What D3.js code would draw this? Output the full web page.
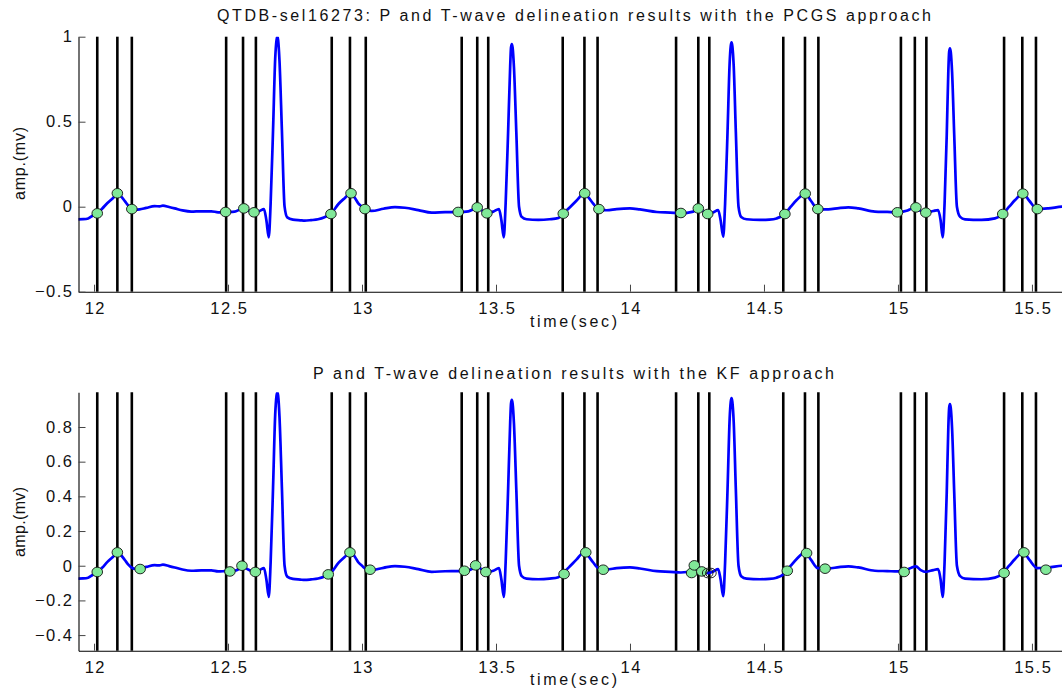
<!DOCTYPE html>
<html><head><meta charset="utf-8">
<script src="https://cdn.jsdelivr.net/npm/d3@7"></script>
<style>
body{margin:0;background:#fff;}
text{font-family:"Liberation Sans",Arial,Helvetica,sans-serif;fill:#111;}
</style>
</head><body>
<svg id="c" width="1062" height="693"></svg>
<script>
// ---------- DATA ----------
const sigTime = [11.940,11.960,11.978,11.996,12.012,12.030,12.050,12.070,12.088,12.100,12.115,12.128,12.141,12.155,12.170,12.195,12.226,12.245,12.257,12.280,12.301,12.330,12.363,12.400,12.438,12.463,12.491,12.525,12.545,12.558,12.575,12.596,12.618,12.634,12.643,12.652,12.659,12.668,12.676,12.681,12.684,12.687,12.692,12.701,12.711,12.721,12.742,12.770,12.786,12.810,12.836,12.860,12.884,12.912,12.935,12.957,12.972,12.986,13.000,13.012,13.036,13.080,13.123,13.160,13.210,13.260,13.310,13.359,13.397,13.415,13.430,13.450,13.468,13.490,13.511,13.520,13.529,13.536,13.545,13.553,13.556,13.559,13.562,13.567,13.576,13.586,13.596,13.614,13.658,13.700,13.733,13.751,13.776,13.800,13.830,13.845,13.862,13.884,13.913,13.950,14.000,14.037,14.100,14.150,14.190,14.236,14.255,14.272,14.290,14.311,14.329,14.338,14.348,14.355,14.364,14.372,14.376,14.379,14.382,14.387,14.395,14.405,14.415,14.435,14.485,14.520,14.547,14.578,14.600,14.622,14.654,14.675,14.701,14.740,14.780,14.815,14.852,14.914,14.960,14.999,15.032,15.050,15.067,15.085,15.104,15.132,15.150,15.159,15.167,15.174,15.182,15.188,15.191,15.194,15.197,15.202,15.210,15.220,15.232,15.250,15.312,15.362,15.391,15.415,15.437,15.467,15.490,15.520,15.561,15.612,15.645];
const sigAmp = [-0.074,-0.073,-0.069,-0.052,-0.039,-0.012,0.022,0.050,0.079,0.062,0.033,0.006,-0.012,-0.018,-0.016,-0.007,0.003,0.002,0.006,-0.002,-0.010,-0.022,-0.029,-0.027,-0.027,-0.033,-0.031,-0.029,-0.016,-0.010,-0.022,-0.033,-0.025,-0.014,-0.078,-0.180,0.020,0.451,0.870,0.980,1.000,0.980,0.860,0.451,0.000,-0.063,-0.076,-0.080,-0.082,-0.079,-0.074,-0.062,-0.041,0.016,0.050,0.079,0.055,0.020,0.000,-0.016,-0.025,-0.012,-0.002,-0.006,-0.020,-0.035,-0.032,-0.031,-0.027,-0.015,-0.004,-0.025,-0.037,-0.029,-0.014,-0.078,-0.180,0.020,0.430,0.830,0.935,0.957,0.935,0.820,0.430,0.000,-0.060,-0.074,-0.078,-0.074,-0.066,-0.041,-0.003,0.035,0.079,0.055,0.020,-0.016,-0.021,-0.014,-0.010,-0.016,-0.031,-0.035,-0.039,-0.029,-0.010,-0.025,-0.043,-0.033,-0.020,-0.078,-0.176,0.020,0.440,0.850,0.945,0.967,0.945,0.830,0.440,0.000,-0.060,-0.074,-0.078,-0.076,-0.069,-0.043,0.000,0.039,0.077,0.035,-0.014,-0.016,-0.008,-0.004,-0.010,-0.029,-0.031,-0.033,-0.024,-0.012,-0.004,-0.025,-0.035,-0.025,-0.020,-0.078,-0.180,0.020,0.420,0.800,0.910,0.932,0.910,0.790,0.420,0.000,-0.060,-0.074,-0.078,-0.069,-0.043,0.000,0.039,0.077,0.035,-0.014,-0.010,0.000,0.002];

// reference annotation lines (sec)
const refLines = [12.012,12.087,12.141,12.493,12.556,12.604,12.887,12.955,13.014,13.372,13.430,13.471,13.749,13.830,13.879,14.172,14.255,14.296,14.572,14.653,14.703,15.011,15.063,15.106,15.396,15.464,15.515];

// PCGS detections
const pcgsTime = [12.012,12.087,12.141,12.491,12.559,12.597,12.884,12.959,13.011,13.359,13.430,13.466,13.751,13.831,13.884,14.190,14.255,14.290,14.578,14.654,14.701,14.998,15.067,15.104,15.391,15.466,15.520];
const pcgsAmp  = [-0.039,0.079,-0.014,-0.031,-0.010,-0.033,-0.043,0.079,-0.014,-0.031,-0.004,-0.039,-0.041,0.079,-0.014,-0.037,-0.010,-0.043,-0.043,0.077,-0.014,-0.033,-0.004,-0.035,-0.043,0.077,-0.014];

// KF detections
const kfTime = [12.012,12.087,12.172,12.507,12.552,12.602,12.874,12.955,13.030,13.382,13.424,13.462,13.754,13.835,13.900,14.230,14.240,14.268,14.290,14.302,14.587,14.659,14.728,15.023,15.396,15.470,15.552];
const kfAmp  = [-0.036,0.077,-0.019,-0.033,0.000,-0.036,-0.050,0.077,-0.023,-0.029,0.002,-0.036,-0.048,0.077,-0.023,-0.042,0.002,-0.033,-0.042,-0.042,-0.029,0.073,-0.017,-0.036,-0.042,0.077,-0.023];
const kfOpen = [0,0,0,0,0,0,0,0,0,0,0,0,0,0,0,0,0,0,1,1,0,0,0,0,0,0,0];

const xTicks = [12,12.5,13,13.5,14,14.5,15,15.5];
const yTicksTop = [-0.5,0,0.5,1];
const yTicksBot = [-0.4,-0.2,0,0.2,0.4,0.6,0.8];

const titleTop = "QTDB-sel16273: P and T-wave delineation results with the PCGS approach";
const titleBot = "P and T-wave delineation results with the KF approach";
const xLabel = "time(sec)";
const yLabel = "amp.(mv)";

// ---------- DRAW ----------
const svg = d3.select("#c");
const signal = sigTime.map((t,i)=>({t, v:sigAmp[i]}));
const x = d3.scaleLinear().domain([11.942,15.642]).range([78.5,1070]);
const fmt = d => (d<0 ? "\u2212" : "") + String(Math.abs(d));

function panel(cfg, idx){
  const y = d3.scaleLinear().domain(cfg.yDomain).range(cfg.yRange);
  const g = svg.append("g");
  const top = cfg.yRange[1], bot = cfg.yRange[0];

  g.append("clipPath").attr("id","clip"+idx).append("rect")
    .attr("x",78.5).attr("y",top).attr("width",1070-78.5).attr("height",bot-top);

  // reference lines
  g.append("g").selectAll("line").data(refLines).join("line")
    .attr("x1",d=>x(d)).attr("x2",d=>x(d)).attr("y1",top).attr("y2",bot)
    .attr("stroke","#000").attr("stroke-width",2.6);

  // signal
  g.append("path").datum(signal)
    .attr("clip-path","url(#clip"+idx+")")
    .attr("fill","none").attr("stroke","#0000ff").attr("stroke-width",2.7)
    .attr("stroke-linejoin","round")
    .attr("d", d3.line().curve(d3.curveMonotoneX).x(d=>x(d.t)).y(d=>y(d.v)));

  // markers
  const pts = cfg.mt.map((t,i)=>({t, v:cfg.mv[i], open: cfg.open ? cfg.open[i] : 0}));
  g.append("g").selectAll("ellipse").data(pts).join("ellipse")
    .attr("cx",d=>x(d.t)).attr("cy",d=>y(d.v)).attr("rx",5.3).attr("ry",4.8)
    .attr("fill",d=>d.open ? "none" : "#80e898").attr("stroke","#111").attr("stroke-width",0.9);

  // axes
  const ax = g.append("g").attr("transform",`translate(0,${bot})`)
    .call(d3.axisBottom(x).tickValues(xTicks).tickSize(-7).tickSizeOuter(0).tickPadding(11).tickFormat(fmt));
  const ay = g.append("g").attr("transform",`translate(78.5,0)`)
    .call(d3.axisLeft(y).tickValues(cfg.yTicks).tickSize(-7).tickSizeOuter(0).tickPadding(5).tickFormat(fmt));
  [ax,ay].forEach(a=>{
    a.select(".domain").attr("stroke","#000").attr("stroke-width",1.1);
    a.selectAll(".tick line").attr("stroke","#444");
    a.selectAll(".tick text").attr("font-size",16.5).attr("fill","#111")
      .attr("letter-spacing","1.5px")
      .attr("font-family",'"Liberation Sans",Arial,sans-serif');
  });
  ax.selectAll(".tick text").attr("dx","0.8");

  // title
  g.append("text").attr("x",cfg.titleX).attr("y",cfg.titleY)
    .attr("font-size",16).attr("textLength",cfg.titleLen).attr("lengthAdjust","spacing")
    .text(cfg.title);
  // x label
  g.append("text").attr("x",530).attr("y",cfg.xlabY)
    .attr("font-size",16).attr("textLength",87).attr("lengthAdjust","spacing")
    .text(xLabel);
  // y label
  g.append("text").attr("transform",`translate(25,${cfg.ylabY}) rotate(-90)`)
    .attr("font-size",16).attr("textLength",cfg.ylabLen).attr("lengthAdjust","spacing")
    .text(yLabel);
}

panel({yDomain:[-0.5,1], yRange:[291.7,36.7], yTicks:yTicksTop,
  mt:pcgsTime, mv:pcgsAmp, title:titleTop, titleX:217, titleY:21, titleLen:714,
  xlabY:327, ylabY:200, ylabLen:73}, 0);
panel({yDomain:[-0.49,1], yRange:[650.7,392.3], yTicks:yTicksBot,
  mt:kfTime, mv:kfAmp, open:kfOpen, title:titleBot, titleX:313, titleY:378.5, titleLen:521,
  xlabY:685, ylabY:557, ylabLen:70}, 1);
</script>
</body></html>
